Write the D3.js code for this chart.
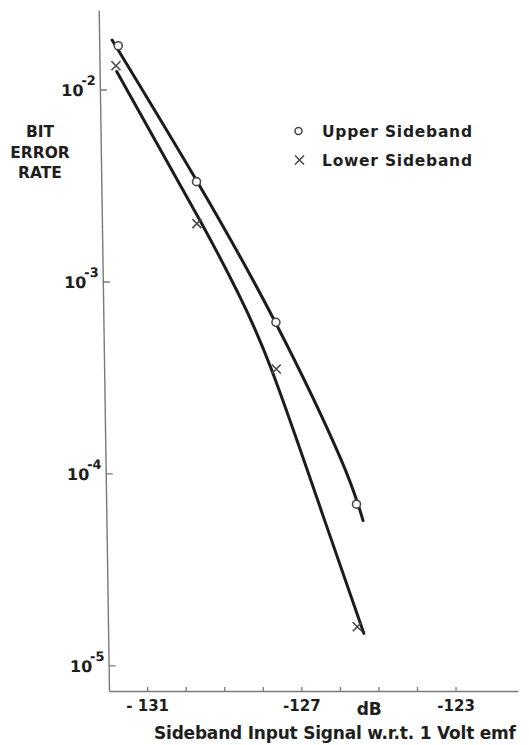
<!DOCTYPE html>
<html>
<head>
<meta charset="utf-8">
<script src="https://cdn.jsdelivr.net/npm/d3@7"></script>
<style>
  html, body { margin: 0; padding: 0; background: #fff; }
  svg { display: block; }
  text { font-family: "DejaVu Sans", "Noto Sans", sans-serif; fill: #1e1e1e; }
</style>
</head>
<body>
<svg id="chart" width="529" height="745"></svg>
<script>
// ---- data ----
const xTicks = [-131, -130, -129, -128, -127, -126, -125, -124, -123];
const xTickLabels = { "-131": "- 131", "-127": "-127", "-123": "-123" };
const yTicks = [1e-2, 1e-3, 1e-4, 1e-5];
const yTickExps = ["-2", "-3", "-4", "-5"];

// measured points
const upperDb  = [-131.75, -129.72, -127.66, -125.57];
const upperBer = [1.69e-2, 3.31e-3, 6.13e-4, 6.92e-5];
const lowerDb  = [-131.81, -129.71, -127.65, -125.55];
const lowerBer = [1.33e-2, 2.00e-3, 3.50e-4, 1.59e-5];

// hand-drawn fitted curves (knots)
const upperCurveDb  = [-131.91, -129.70, -127.67, -126.00, -125.40];
const upperCurveBer = [1.81e-2, 3.31e-3, 6.10e-4, 1.22e-4, 5.68e-5];
const lowerCurveDb  = [-131.79, -129.59, -128.64, -127.77, -126.43, -125.38];
const lowerCurveBer = [1.24e-2, 2.01e-3, 8.69e-4, 3.46e-4, 5.96e-5, 1.47e-5];

const legendLabels = ["Upper Sideband", "Lower Sideband"];
const yLabelLines = ["BIT", "ERROR", "RATE"];
const xUnit = "dB";
const xTitle = "Sideband  Input  Signal  w.r.t.  1 Volt  emf";

// ---- layout ----
const svg = d3.select("#chart");
const mLeft = 109, mRight = 518, mTop = 10, mBottom = 691;

const x = d3.scaleLinear().domain([-131.99, -121.38]).range([mLeft, mRight]);
const y = d3.scaleLog().domain([Math.pow(10, -5.133), Math.pow(10, -1.586)]).range([mBottom, mTop]);

const ink = "#1c1c1c";
const axisGrey = "#7a7a7a";

// x axis (ticks pointing up)
const xAxis = d3.axisBottom(x)
  .tickValues(xTicks)
  .tickSizeInner(-4)
  .tickSizeOuter(0)
  .tickPadding(10)
  .tickFormat(d => xTickLabels[String(d)] || "");
const gx = svg.append("g").attr("transform", `translate(0,${mBottom})`).call(xAxis);
gx.select(".domain").attr("stroke", axisGrey).attr("stroke-width", 1.4);
gx.selectAll(".tick line").attr("stroke", axisGrey).attr("stroke-width", 1.3);
gx.selectAll(".tick text")
  .attr("y", 20)
  .attr("dy", 0)
  .attr("font-size", 15)
  .attr("font-weight", 600)
  .attr("fill", "#1e1e1e");

// y axis (slightly slanted as in the drawing, ticks pointing right)
const slant = Math.atan(10.3 / 681) * 180 / Math.PI;
const gy = svg.append("g")
  .attr("transform", `translate(${mLeft - 10.3 * mBottom / 681},0) skewX(${slant})`)
  .call(d3.axisLeft(y).tickValues(yTicks).tickSizeInner(-7).tickSizeOuter(0).tickFormat(""));
gy.select(".domain").attr("stroke", axisGrey).attr("stroke-width", 1.4);
gy.selectAll(".tick line").attr("stroke", axisGrey).attr("stroke-width", 1.3);
gy.selectAll(".tick").each(function(d, i) {
  const t = d3.select(this).append("text")
    .attr("x", -4).attr("y", 6)
    .attr("text-anchor", "end")
    .attr("font-weight", 600)
    .attr("fill", "#1e1e1e");
  t.append("tspan").attr("font-size", 16).text("10");
  t.append("tspan").attr("font-size", 13).attr("dy", -11).attr("dx", -2).text(yTickExps[i]);
});

// y label
svg.append("g").selectAll("text").data(yLabelLines).join("text")
  .attr("x", 40)
  .attr("y", (d, i) => 137 + i * 20.7)
  .attr("text-anchor", "middle")
  .attr("font-size", 15.5)
  .attr("font-weight", 700)
  .text(d => d);

// x unit + title
svg.append("text").attr("x", x(-125.24)).attr("y", 715)
  .attr("text-anchor", "middle").attr("font-size", 17).attr("font-weight", 600).text(xUnit);
svg.append("text").attr("x", 335).attr("y", 739)
  .attr("text-anchor", "middle").attr("font-size", 17).attr("font-weight", 600)
  .attr("textLength", 362).text(xTitle);

// curves
const line = d3.line().x(d => x(d[0])).y(d => y(d[1])).curve(d3.curveNatural);
const upperCurve = upperCurveDb.map((d, i) => [d, upperCurveBer[i]]);
const lowerCurve = lowerCurveDb.map((d, i) => [d, lowerCurveBer[i]]);
svg.append("path").datum(upperCurve).attr("d", line)
  .attr("fill", "none").attr("stroke", ink).attr("stroke-width", 3).attr("stroke-linecap", "round");
svg.append("path").datum(lowerCurve).attr("d", line)
  .attr("fill", "none").attr("stroke", ink).attr("stroke-width", 3).attr("stroke-linecap", "round");

// markers
const markGrey = "#4a4a4a";
svg.append("g").selectAll("circle").data(upperDb.map((d, i) => [d, upperBer[i]])).join("circle")
  .attr("cx", d => x(d[0])).attr("cy", d => y(d[1])).attr("r", 4)
  .attr("fill", "#fff").attr("stroke", markGrey).attr("stroke-width", 1.6);

const cross = (sel, s) => sel.append("path")
  .attr("d", `M${-s},${-s}L${s},${s}M${-s},${s}L${s},${-s}`)
  .attr("stroke", markGrey).attr("stroke-width", 1.6).attr("fill", "none");
svg.append("g").selectAll("g").data(lowerDb.map((d, i) => [d, lowerBer[i]])).join("g")
  .attr("transform", d => `translate(${x(d[0])},${y(d[1])})`)
  .each(function() { cross(d3.select(this), 4.5); });

// legend
const lg = svg.append("g");
lg.append("circle").attr("cx", 298.5).attr("cy", 131).attr("r", 3.5)
  .attr("fill", "#fff").attr("stroke", markGrey).attr("stroke-width", 1.6);
cross(lg.append("g").attr("transform", "translate(299.5,160)"), 4.5);
lg.selectAll("text").data(legendLabels).join("text")
  .attr("x", 322).attr("y", (d, i) => 137 + i * 28.7)
  .attr("font-size", 15.5).attr("font-weight", 600)
  .attr("textLength", 150)
  .text(d => d);
</script>
</body>
</html>
